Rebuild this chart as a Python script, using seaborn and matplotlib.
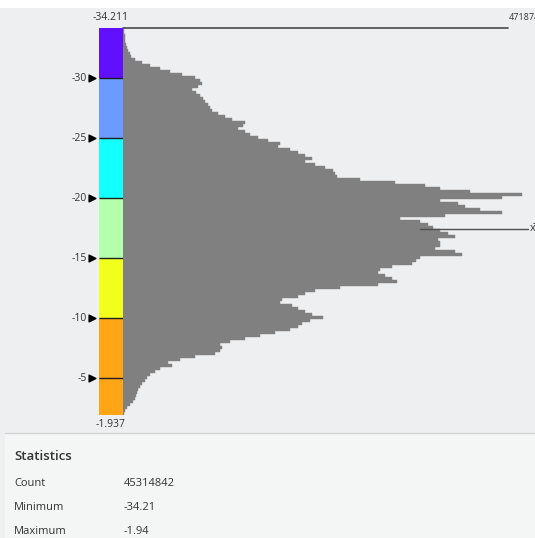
import numpy as np
import pandas as pd
import matplotlib
matplotlib.use("Agg")
import matplotlib.pyplot as plt
import matplotlib.transforms as mtransforms
from matplotlib.patches import Rectangle
import seaborn as sns

# histogram of raster values (bins of 0.25 starting at the minimum), counts in thousands
bin_start = -34.211
bin_width = 0.25
counts_k = [
    1, 1, 2, 2, 3, 4, 5, 6, 9, 10, 15, 23, 33, 45, 58, 72, 88, 94, 97, 92,
    85, 89, 94, 98, 101, 104, 107, 109, 116, 125, 134, 150, 147, 141, 150, 156, 165, 178, 192, 190,
    205, 214, 223, 232, 223, 235, 248, 257, 260, 262, 290, 333, 370, 389, 425, 489, 464, 389, 411, 419,
    438, 464, 395, 339, 364, 374, 380, 389, 398, 407, 386, 389, 389, 382, 407, 415, 364, 359, 354, 330,
    315, 313, 321, 330, 336, 313, 266, 235, 223, 214, 195, 192, 207, 214, 223, 232, 245, 229, 219, 214,
    205, 186, 168, 150, 131, 119, 121, 119, 113, 88, 70, 55, 60, 45, 39, 33, 29, 27, 23, 21,
    18, 17, 16, 15, 12, 9, 5, 2, 1,
]

val_min = -34.211
val_max = -1.937
max_count = 471874
mean_val = -17.42
tick_vals = [-30, -25, -20, -15, -10, -5]
class_breaks = [-34.211, -30, -25, -20, -15, -10, -1.937]
class_colors = ["#6010FF", "#6B9BFF", "#14FFFF", "#B4FFAC", "#F2FF1C", "#FFA516"]
stat_names = ["Count", "Minimum", "Maximum"]
stat_values = ["45314842", "-34.21", "-1.94"]

W, H = 535, 538


def fx(px):
    return px / W


def fy(py):
    return 1 - py / H


sns.set_theme(style="white")
plt.rcParams["font.family"] = ["Open Sans", "DejaVu Sans"]

n_bins = len(counts_k)
centers = bin_start + bin_width * (np.arange(n_bins) + 0.5)
hist_df = pd.DataFrame({"value": centers, "count": np.array(counts_k) * 1000.0})

fig = plt.figure(figsize=(W / 100, H / 100), dpi=100, facecolor="#F4F5F5")

# panel backgrounds
fig.add_artist(Rectangle((0, fy(433)), 1, fy(8) - fy(433), transform=fig.transFigure,
                         facecolor="#EEEFF0", edgecolor="none", zorder=0))
fig.add_artist(Rectangle((0, fy(8)), 1, 1 - fy(8), transform=fig.transFigure,
                         facecolor="white", edgecolor="none", zorder=0))
fig.add_artist(Rectangle((0, 0), fx(5), fy(433), transform=fig.transFigure,
                         facecolor="#EEEFF0", edgecolor="none", zorder=0))
fig.add_artist(plt.Line2D([fx(5), 1], [fy(433), fy(433)], transform=fig.transFigure,
                          color="#D2D3D4", lw=1))

top_px, bot_px = 27.5, 414.8
ax_bottom = fy(bot_px)
ax_height = (bot_px - top_px) / H

# histogram
ax = fig.add_axes([fx(123), ax_bottom, (W - 123) / W, ax_height])
ax.set_facecolor("none")
sns.histplot(data=hist_df, y="value", weights="count", binwidth=bin_width,
             binrange=(bin_start, bin_start + bin_width * n_bins),
             color="#808080", alpha=1, edgecolor="#808080", linewidth=0.3, ax=ax)
ax.set_ylim(val_max, val_min)
ax.set_xlim(0, (W - 123) * max_count / 385)
ax.set_axis_off()

ax.plot([0, max_count], [val_min, val_min], color="#4A4A4A", lw=1.2, clip_on=False)
ax.annotate(str(max_count), (max_count, val_min), xytext=(1, 5), textcoords="offset pixels",
            ha="left", va="bottom", fontsize=6.5, color="#333333", annotation_clip=False)

ax.plot([364000, 496000], [mean_val, mean_val], color="#505050", lw=1, clip_on=False)
ax.annotate("x\u0304", (496000, mean_val), xytext=(2, 0), textcoords="offset pixels",
            ha="left", va="center", fontsize=8, color="#333333", annotation_clip=False)

# class colour bar
cax = fig.add_axes([fx(99), ax_bottom, 24 / W, ax_height])
for lo, hi, c in zip(class_breaks[:-1], class_breaks[1:], class_colors):
    cax.barh(lo, 1, height=hi - lo, left=0, align="edge", color=c, linewidth=0)
cax.hlines(tick_vals, 0, 1, color="#1E1E1E", lw=1)
cax.set_ylim(val_max, val_min)
cax.set_xlim(0, 1)
cax.set_axis_off()

trans = mtransforms.blended_transform_factory(cax.transAxes, cax.transData)
for t in tick_vals:
    cax.text(-0.5, t, str(t), transform=trans, ha="right", va="center",
             fontsize=7.5, color="#333333")
    cax.scatter([-0.3], [t], marker=">", s=24, color="black", transform=trans, clip_on=False)

cax.annotate(f"{val_min:.3f}", (0.5, val_min), xycoords=trans, xytext=(0, 4),
             textcoords="offset pixels", ha="center", va="bottom", fontsize=7.5,
             color="#333333", annotation_clip=False)
cax.annotate(f"{val_max:.3f}", (0.5, val_max), xycoords=trans, xytext=(0, -4),
             textcoords="offset pixels", ha="center", va="top", fontsize=7.5,
             color="#333333", annotation_clip=False)

# statistics panel
fig.text(fx(14), fy(457), "Statistics", fontsize=9.5, fontweight="semibold",
         va="center", ha="left", color="#333333")
for i, (name, val) in enumerate(zip(stat_names, stat_values)):
    y = fy(483 + 24 * i)
    fig.text(fx(14), y, name, fontsize=8, va="center", ha="left", color="#333333")
    fig.text(fx(124), y, val, fontsize=8, va="center", ha="left", color="#333333")

fig.savefig("out.png", dpi=100, facecolor=fig.get_facecolor())
